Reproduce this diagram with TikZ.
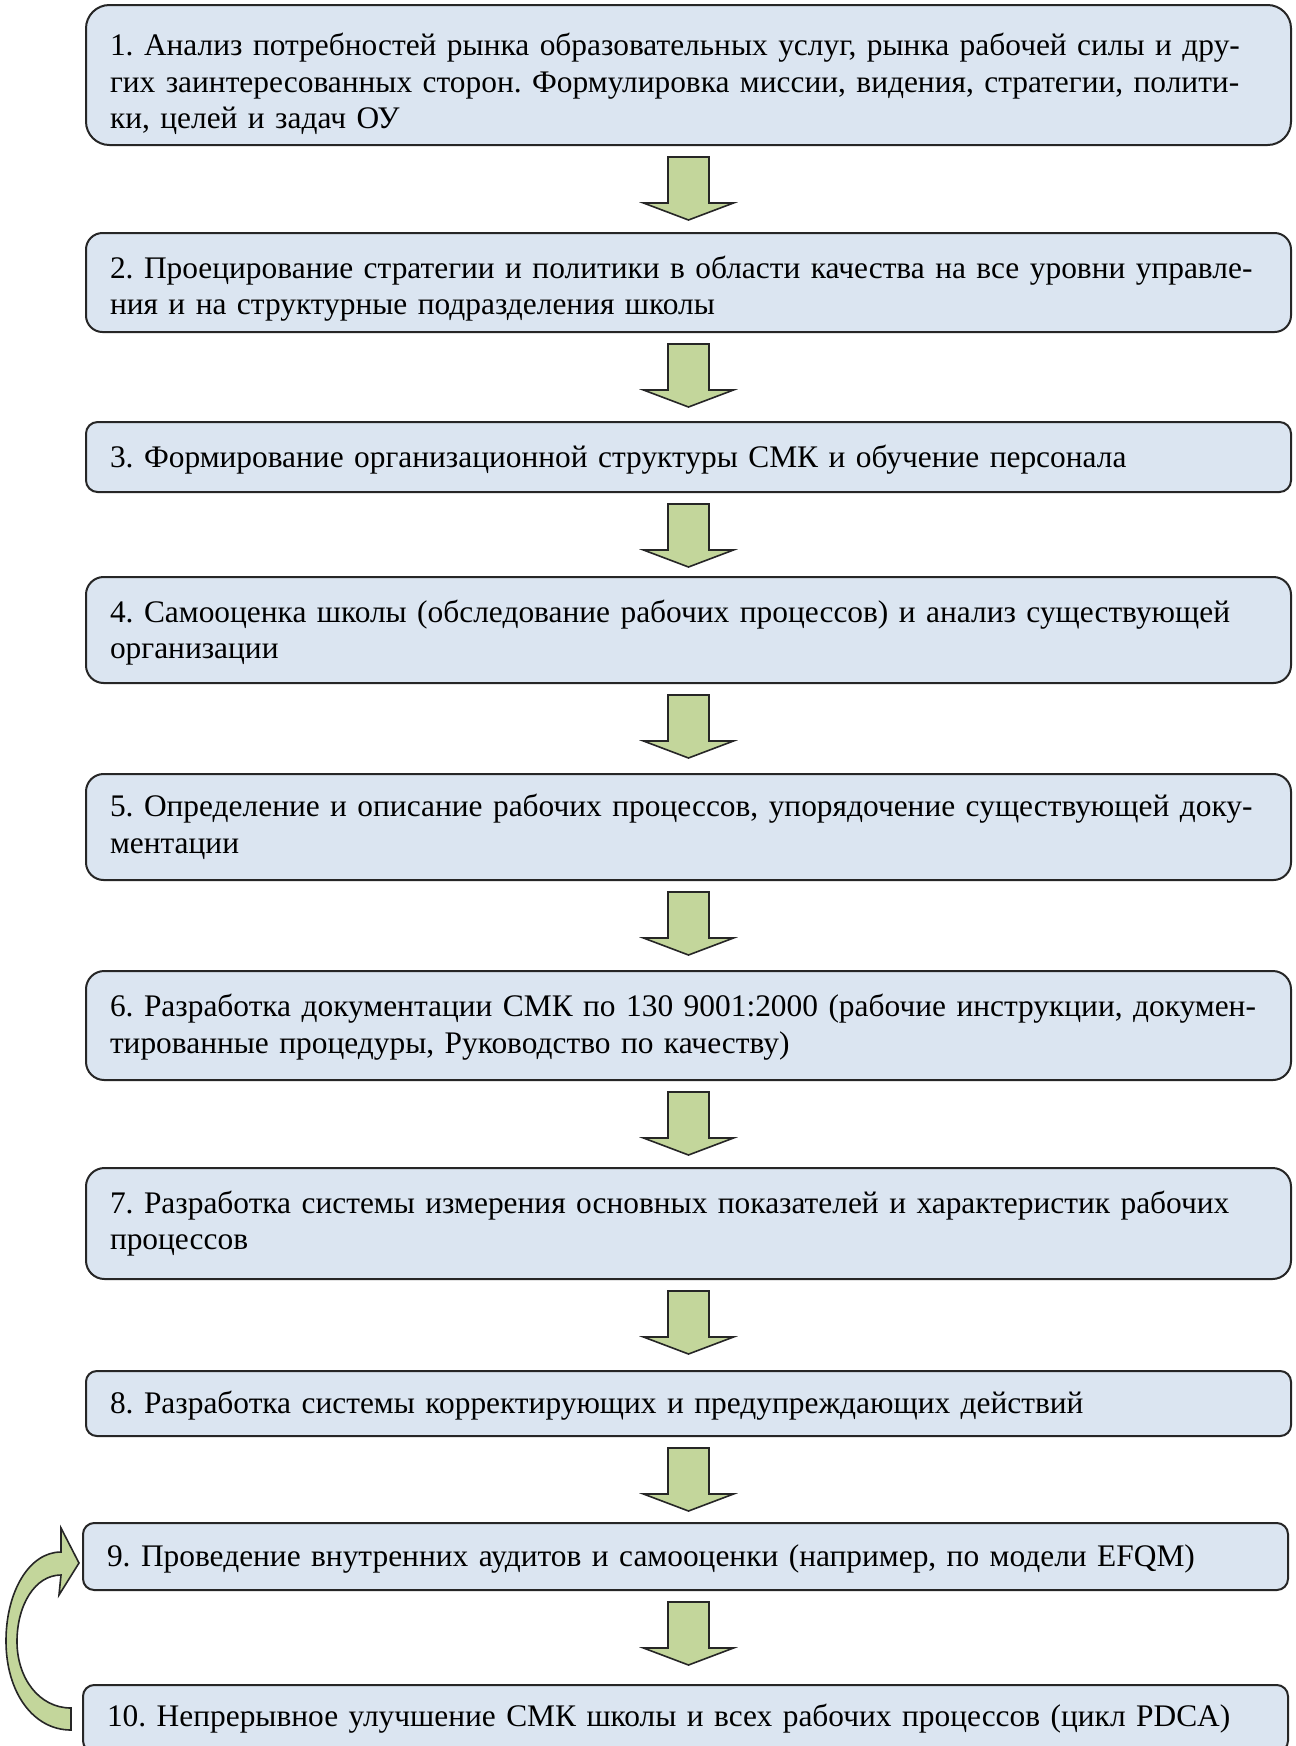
\documentclass[tikz,border=0pt]{standalone}
\usepackage{fontspec}
\setmainfont{Liberation Serif}
\usetikzlibrary{calc}
\definecolor{boxfill}{HTML}{DBE5F1}
\definecolor{arrowfill}{HTML}{C3D69B}
\newcommand\jl[1]{\makebox[572pt][s]{#1}\\}
\newcommand\tsh[1]{\rule{0pt}{\dimexpr 11pt+#1pt\relax}}
\newcommand\blkarrow[2]{\draw[garrow] ($(#1.south)+(#2,0)+(-20.5,11)$) -- ++(41,0) -- ++(0,46) -- ++(24.5,0) -- ++(-45,17) -- ++(-45,-17) -- ++(24.5,0) -- cycle;}
\begin{document}
\begin{tikzpicture}[x=0.5pt,y=-0.5pt,
  box/.style={draw=black!85, line width=1pt, fill=boxfill, rectangle, inner xsep=12pt, inner ysep=0pt,
    text width=578.5pt, align=left, font=\fontsize{15.7pt}{18.25pt}\selectfont\frenchspacing, anchor=center},
  garrow/.style={draw=black!85, line width=0.8pt, fill=arrowfill, line join=miter}]
\useasboundingbox[fill=white] (0,0) rectangle (1296,1746);
\node[box, minimum height=70pt, rounded corners=11.7pt] (b1) at (688.5,75)
  {\tsh{9.5}\jl{1. Анализ потребностей рынка образовательных услуг, рынка рабочей силы и дру-}\jl{гих заинтересованных сторон. Формулировка миссии, видения, стратегии, полити-}ки, целей и задач ОУ};
\node[box, minimum height=49.5pt, rounded corners=8.25pt] (b2) at (688.5,282.5)
  {\tsh{6.5}\jl{2. Проецирование стратегии и политики в области качества на все уровни управле-}ния и на структурные подразделения школы};
\node[box, minimum height=35pt, rounded corners=5.8pt] (b3) at (688.5,457)
  {\tsh{2.5}3. Формирование организационной структуры СМК и обучение персонала};
\node[box, minimum height=53pt, rounded corners=8.8pt] (b4) at (688.5,630)
  {\tsh{3}\jl{4. Самооценка школы (обследование рабочих процессов) и анализ существующей}организации};
\node[box, minimum height=53pt, rounded corners=8.8pt] (b5) at (688.5,827)
  {\jl{5. Определение и описание рабочих процессов, упорядочение существующей доку-}ментации};
\node[box, minimum height=54.5pt, rounded corners=9.1pt] (b6) at (688.5,1025.5)
  {\tsh{2}\jl{6. Разработка документации СМК по 130 9001:2000 (рабочие инструкции, докумен-}тированные процедуры, Руководство по качеству)};
\node[box, minimum height=55.5pt, rounded corners=9.25pt] (b7) at (688.5,1223.5)
  {\jl{7. Разработка системы измерения основных показателей и характеристик рабочих}процессов};
\node[box, minimum height=32.5pt, rounded corners=5.4pt] (b8) at (688.5,1403.5)
  {\tsh{2}8. Разработка системы корректирующих и предупреждающих действий};
\node[box, minimum height=33.5pt, rounded corners=5.6pt] (b9) at (685.5,1556.5)
  {\tsh{2}9. Проведение внутренних аудитов и самооценки (например, по модели EFQM)};
\node[box, minimum height=33.5pt, rounded corners=5.6pt] (b10) at (685.5,1718.5)
  {10. Непрерывное улучшение СМК школы и всех рабочих процессов (цикл PDCA)};
\blkarrow{b1}{0}
\blkarrow{b2}{0}
\blkarrow{b3}{0}
\blkarrow{b4}{0}
\blkarrow{b5}{0}
\blkarrow{b6}{0}
\blkarrow{b7}{0}
\blkarrow{b8}{0}
\blkarrow{b9}{3}
\begin{scope}[shift={(b9.west)}]
\draw[garrow] (-3,6.5) -- (-21,-28.5) -- (-21,-4.5)
  .. controls (-53,-4.5) and (-76,35.5) .. (-76,84.5)
  .. controls (-76,135.5) and (-49,173.5) .. (-11,173.5)
  -- (-11,151.5)
  .. controls (-43,151.5) and (-65,121.5) .. (-65,85)
  .. controls (-65,48.5) and (-47,18.5) .. (-21,18.5)
  -- (-23,38.5) -- cycle;
\end{scope}
\end{tikzpicture}
\end{document}
